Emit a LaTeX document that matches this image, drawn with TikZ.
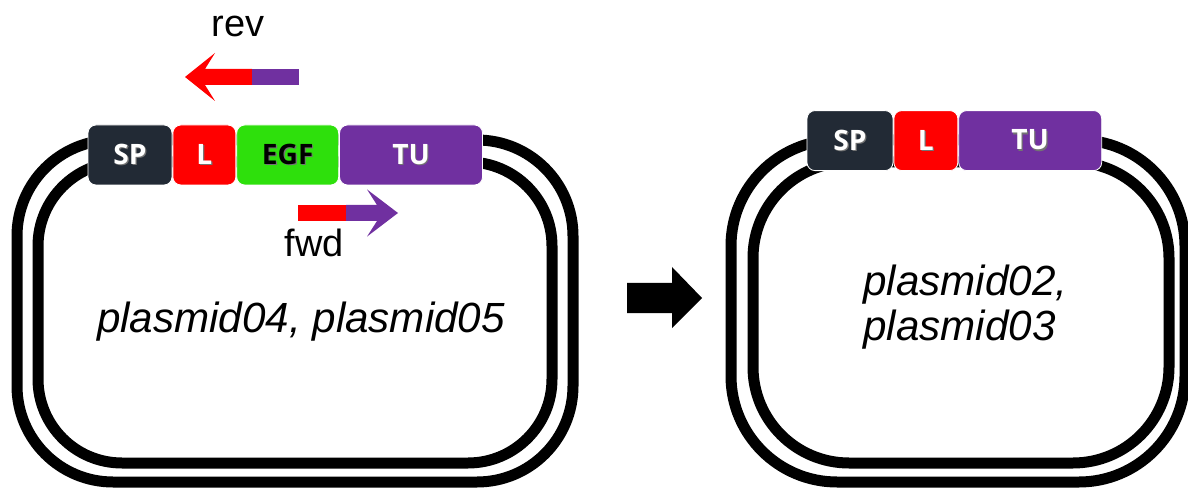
\documentclass[tikz,border=0pt]{standalone}
\usepackage{fontspec}
\setmainfont{Liberation Sans}
\newfontfamily\partfont{Open Sans}
\usetikzlibrary{positioning}
\definecolor{spgray}{HTML}{222A35}
\definecolor{lred}{HTML}{FF0000}
\definecolor{egfgreen}{HTML}{2EE00C}
\definecolor{tupurple}{HTML}{7030A0}
\newcommand{\shd}[1]{\rlap{\kern.8pt\raisebox{-.8pt}{\color{black!55}#1}}#1}
\tikzset{ring/.style={line width=.275cm},part/.style={draw=white,line width=.6pt,rounded corners=.2cm,minimum height=1.5cm,inner sep=0pt,text=white,font=\partfont\bfseries\fontsize{20}{24}\selectfont}}

\begin{document}
\begin{tikzpicture}
\useasboundingbox (0,0) rectangle (29.7,12.175);
% left plasmid, double backbone
\draw[ring,rounded corners=2.4cm] (.425,.125) rectangle (14.325,8.675);\draw[ring,rounded corners=2.1cm] (.95,.6) rectangle (13.8,8.125);
\node[part,fill=spgray,minimum width=2.1cm] (sp1) at (3.25,8.3){\shd{SP}};
\node[part,fill=lred,minimum width=1.575cm,right=0pt of sp1] (l1){\shd{L}};
\node[part,fill=egfgreen,minimum width=2.55cm,text=black,right=0pt of l1] (egf1){\shd{EGF}};
\node[part,fill=tupurple,minimum width=3.575cm,right=0pt of egf1] (tu1){\shd{TU}};
% primers
\fill[lred] (4.625,10.25)--(5.375,10.85)--(5.125,10.45)--(6.3,10.45)--(6.3,10.05)--(5.125,10.05)--(5.375,9.65)--cycle;\fill[tupurple] (6.3,10.05) rectangle (7.475,10.45);
\fill[lred] (7.45,6.65) rectangle (8.65,7.05);\fill[tupurple] (8.65,6.65)--(9.425,6.65)--(9.175,6.26)--(9.95,6.85)--(9.175,7.44)--(9.425,7.05)--(8.65,7.05)--cycle;
\node[anchor=base,font=\fontsize{27}{30}\selectfont] (rev) at (5.95,11.25){rev};
\node[anchor=base,font=\fontsize{27}{30}\selectfont] (fwd) at (7.85,5.75){fwd};
\node[anchor=base,font=\itshape\fontsize{30}{32}\selectfont] (name1) at (7.525,3.875){plasmid04, plasmid05};
% step arrow
\fill (15.675,5.1)--(16.8,5.1)--(16.8,5.5)--(17.55,4.725)--(16.8,3.975)--(16.8,4.35)--(15.675,4.35)--cycle;
% right plasmid, EGF removed
\draw[ring,rounded corners=2.65cm] (18.275,.125) rectangle (29.625,8.675);\draw[ring,rounded corners=2.4cm] (18.825,.6) rectangle (29.225,8.125);
\node[part,fill=spgray,minimum width=2.15cm] (sp2) at (21.25,8.66){\shd{SP}};
\node[part,fill=lred,minimum width=1.6cm,right=0pt of sp2] (l2){\shd{L}};
\node[part,fill=tupurple,minimum width=3.575cm,right=0pt of l2] (tu2){\shd{TU}};
\node[anchor=north west,inner sep=0pt,align=left,font=\itshape\fontsize{30}{32}\selectfont] (name2) at (21.575,5.55){plasmid02,\\plasmid03};
\end{tikzpicture}
\end{document}
